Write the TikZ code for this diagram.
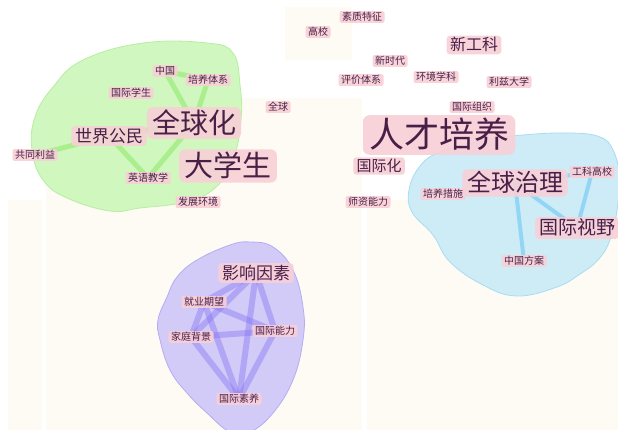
\documentclass[tikz,border=0pt]{standalone}
\usepackage{fontspec}
\newfontfamily\cjk{Noto Sans CJK SC}
\pgfdeclarelayer{panels}
\pgfdeclarelayer{blobs}
\pgfdeclarelayer{links}
\pgfsetlayers{panels,blobs,links,main}
\definecolor{panel}{HTML}{FEFBF5}
\definecolor{gfill}{HTML}{CDF7BC}
\definecolor{gdraw}{HTML}{B8EEA2}
\definecolor{gedge}{HTML}{A6EE88}
\definecolor{bfill}{HTML}{CBECF7}
\definecolor{bdraw}{HTML}{A8DCF2}
\definecolor{bedge}{HTML}{8DD3F5}
\definecolor{pfill}{HTML}{D0C9F8}
\definecolor{pdraw}{HTML}{B6ACF4}
\definecolor{pedge}{HTML}{8A78F5}
\definecolor{boxpink}{HTML}{F8D0D7}
\definecolor{kwtext}{HTML}{4A1F47}
\tikzset{
  kw/.style={fill=boxpink, fill opacity=0.9, text opacity=1, text=kwtext,
    rounded corners={#1*0.2pt}, font=\cjk\fontsize{#1}{#1}\selectfont,
    inner xsep={#1*0.15pt+1pt}, inner ysep={#1*0.06pt+0.3pt},
    text height={#1*0.86pt}, text depth={#1*0.14pt}},
  small/.style={kw=10},
  panelbox/.style={fill=panel, draw=none},
  gblob/.style={fill=gfill, draw=gdraw, line width=0.8pt, fill opacity=0.95},
  bblob/.style={fill=bfill, draw=bdraw, line width=0.8pt, fill opacity=0.95},
  pblob/.style={fill=pfill, draw=pdraw, line width=0.8pt, fill opacity=0.95},
  glink/.style={draw=gedge, line width=5pt, opacity=0.9},
  blink/.style={draw=bedge, line width=4pt, opacity=0.9},
  plink/.style={draw=pedge, line width=6pt, opacity=0.45}
}
\begin{document}
\begin{tikzpicture}[x=1pt,y=-1pt]
\useasboundingbox (0,0) rectangle (618,430);
% background panels
\begin{pgfonlayer}{panels}
\clip (0,0) rectangle (618,430);
\fill[white] (0,0) rectangle (618,430);
\fill[panelbox] (285,7) rectangle (352,60);
\fill[panelbox] (46,98) rectangle (362,430);
\fill[panelbox] (8,200) rectangle (42,430);
\fill[panelbox] (367,200) rectangle (618,430);
\end{pgfonlayer}
% cluster areas
\begin{pgfonlayer}{blobs}
\clip (0,0) rectangle (618,430);
\draw[gblob] plot[smooth cycle, tension=0.7] coordinates {(143,43) (207,43) (233,53) (240,85) (241,120) (233,160) (215,188) (185,202) (140,208) (110,211) (67,198) (43,180) (32,150) (35,117) (53,87) (83,60)};
\draw[bblob] plot[smooth cycle, tension=0.7] coordinates {(440,152) (480,141) (523,135) (570,133) (600,137) (613,150) (619,175) (617,210) (610,240) (598,260) (580,274) (557,287) (517,296) (483,285) (450,262) (433,235) (412,212) (409,190) (420,166)};
\draw[pblob] plot[smooth cycle, tension=0.7] coordinates {(230,245) (250,242) (273,247) (293,270) (303,307) (303,340) (293,380) (273,413) (250,432) (230,432) (207,413) (187,393) (170,370) (160,340) (158,320) (167,297) (177,277) (197,260)};
\end{pgfonlayer}
% keywords
\node[kw=35] (rcpy) at (439,135) {人才培养};
\node[kw=28] (qqh) at (194,123) {全球化};
\node[kw=29] (dxs) at (228,166) {大学生};
\node[kw=17] (sjgm) at (109,136) {世界公民};
\node[kw=24] (qqzl) at (515,183) {全球治理};
\node[kw=19, anchor=west] (gjsy) at (535,228) {国际视野};
\node[kw=17] (yxys) at (256,273) {影响因素};
\node[kw=16] (xgk) at (474,45) {新工科};
\node[kw=15] (gjh) at (379,166) {国际化};
\node[small] (szdz) at (362,17) {素质特征};
\node[small] (gx) at (318,32) {高校};
\node[small] (xsd) at (390,61) {新时代};
\node[small] (pjtx) at (361,80) {评价体系};
\node[small] (hjxk) at (436,77) {环境学科};
\node[small] (lzdx) at (509,82) {利兹大学};
\node[small] (gjzz) at (472,107) {国际组织};
\node[small] (qq) at (278,107) {全球};
\node[small] (zg) at (165,71) {中国};
\node[small] (pytx) at (208,80) {培养体系};
\node[small] (gjxs) at (131,93) {国际学生};
\node[small] (gtly) at (35,155) {共同利益};
\node[small] (yyjx) at (148,178) {英语教学};
\node[small] (fzhj) at (198,202) {发展环境};
\node[small] (sznl) at (368,202) {师资能力};
\node[small] (pycs) at (443,194) {培养措施};
\node[small] (gkgx) at (592,172) {工科高校};
\node[small] (zgfa) at (524,261) {中国方案};
\node[small] (jyqw) at (204,302) {就业期望};
\node[small] (jtbj) at (191,337) {家庭背景};
\node[small] (gjnl) at (275,331) {国际能力};
\node[small] (gjsyang) at (239,399) {国际素养};
% links
\begin{pgfonlayer}{links}
\draw[glink] (zg.center) -- (pytx.center);
\draw[glink] (zg.center) -- (qqh.center);
\draw[glink] (pytx.center) -- (qqh.center);
\draw[glink] (sjgm.center) -- (qqh.center);
\draw[glink] (sjgm.center) -- (gtly.center);
\draw[glink] (sjgm.center) -- (yyjx.center);
\draw[glink] (yyjx.center) -- (qqh.center);
\draw[blink] (qqzl.center) -- (gkgx.center);
\draw[blink] (gkgx.center) -- (gjsy.center);
\draw[blink] (qqzl.center) -- (gjsy.center);
\draw[blink] (qqzl.center) -- (zgfa.center);
\draw[plink] (yxys.center) -- (jyqw.center);
\draw[plink] (yxys.center) -- (jtbj.center);
\draw[plink] (yxys.center) -- (gjnl.center);
\draw[plink] (yxys.center) -- (gjsyang.center);
\draw[plink] (jyqw.center) -- (jtbj.center);
\draw[plink] (jyqw.center) -- (gjnl.center);
\draw[plink] (jyqw.center) -- (gjsyang.center);
\draw[plink] (jtbj.center) -- (gjnl.center);
\draw[plink] (jtbj.center) -- (gjsyang.center);
\draw[plink] (gjnl.center) -- (gjsyang.center);
\end{pgfonlayer}
\end{tikzpicture}
\end{document}
